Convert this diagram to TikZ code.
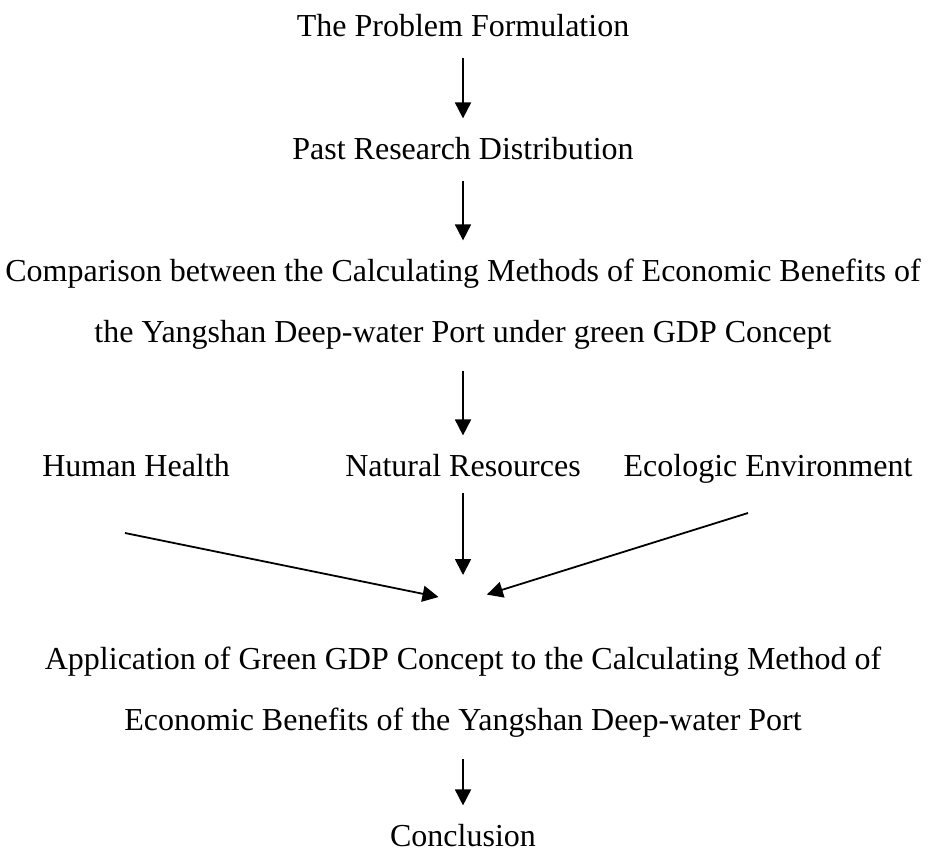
\documentclass[tikz,border=0pt]{standalone}
\usepackage{fontspec}
\setmainfont{Liberation Serif}
\usetikzlibrary{arrows.meta}
\tikzstyle{step text}=[inner sep=0pt, font=\fontsize{16}{30.5}\selectfont, align=center]
\tikzstyle{flow}=[-{Triangle[length=8pt, width=8pt]}, line width=0.9pt, shorten <=10.5pt, shorten >=9pt]
\tikzstyle{merge}=[-{Triangle[length=8pt, width=8pt]}, line width=0.9pt, shorten >=12.5pt]

\begin{document}
\begin{tikzpicture}[x=0.5pt, y=-0.5pt]
      \useasboundingbox (0, 0) rectangle (935, 852);
      \node[step text, anchor=base] (problem) at (463, 36) {The Problem Formulation};
      \node[step text, anchor=base] (past) at (463, 159) {Past Research Distribution};
      \node[step text] (compare) at (463, 304) {Comparison between the Calculating Methods of Economic Benefits of\\
        the Yangshan Deep-water Port under green GDP Concept};
      \node[step text, anchor=base] (health) at (136, 476) {Human Health};
      \node[step text, anchor=base] (resources) at (463, 476) {Natural Resources};
      \node[step text, anchor=base] (ecology) at (768, 476) {Ecologic Environment};
      \coordinate (health end) at (125, 533);
      \coordinate (ecology end) at (748, 513);
      \coordinate (hub) at (463, 602);
      \node[step text] (apply) at (463, 692.5) {Application of Green GDP Concept to the Calculating Method of\\
        Economic Benefits of the Yangshan Deep-water Port};
      \node[step text, anchor=base] (conclusion) at (463, 846) {Conclusion};
      \draw[flow] (problem) to (past);
      \draw[flow] (past) to (compare);
      \draw[flow] (compare) to (resources);
      \draw[flow, shorten <=8pt, shorten >=13.5pt] (resources) to (hub);
      \draw[merge] (health end) to (hub);
      \draw[merge] (ecology end) to (hub);
      \draw[flow] (apply) to (conclusion);
    \end{tikzpicture}
\end{document}
